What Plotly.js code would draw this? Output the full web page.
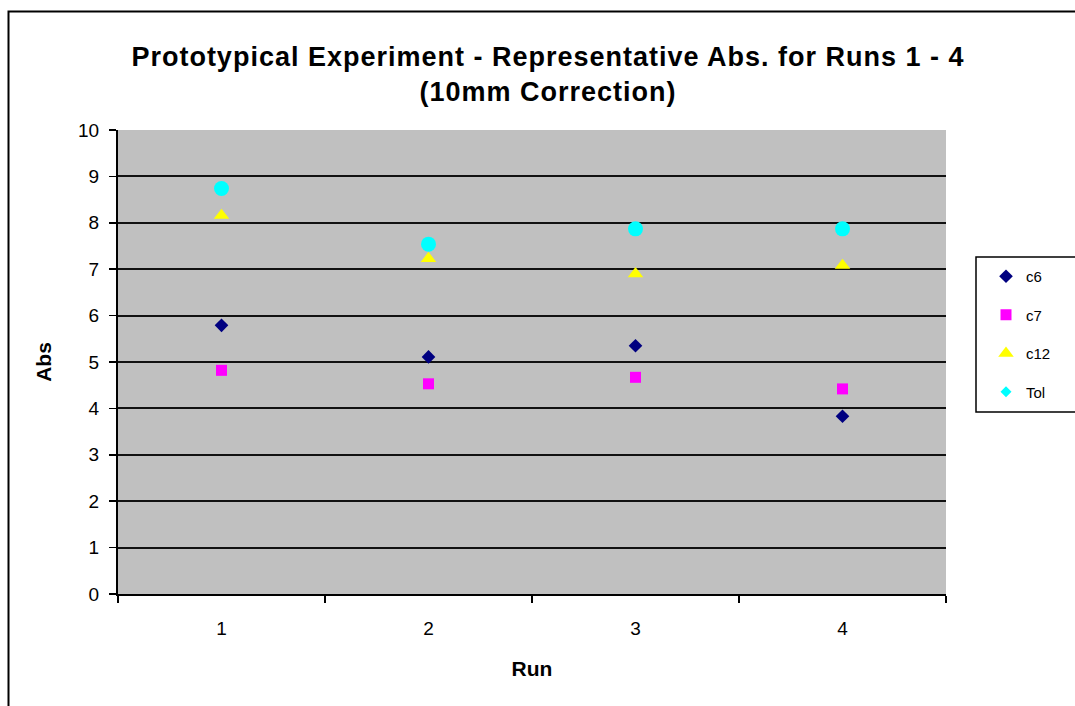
<!DOCTYPE html>
<html>
<head>
<meta charset="utf-8">
<script src="https://cdn.plot.ly/plotly-3.0.1.min.js"></script>
<style>
html,body{margin:0;padding:0;background:#fff;}
#chart{width:1075px;height:706px;}
#chart .gtitle{letter-spacing:1px;}
</style>
</head>
<body>
<div id="chart"></div>
<script>
var runs = ['1', '2', '3', '4'];
var c6 = [5.79, 5.11, 5.35, 3.83];
var c7 = [4.82, 4.53, 4.67, 4.42];
var c12 = [8.16, 7.23, 6.90, 7.08];
var tol = [8.74, 7.54, 7.87, 7.87];

var L = 118, R = 946, T = 130, B = 594, W = 1075, H = 706;
function px(x){ return (x - L) / (R - L); }
function py(y){ return (B - y) / (B - T); }

var font = 'Liberation Sans, Arial, sans-serif';

var traces = [
  {x: runs, y: c6, name: 'c6', type: 'scatter', mode: 'markers', legendgroup: 'a',
   marker: {symbol: 'diamond', size: 10.5, color: '#000080'}},
  {x: runs, y: c7, name: 'c7', type: 'scatter', mode: 'markers', legendgroup: 'b',
   marker: {symbol: 'square', size: 11, color: '#ff00ff'}},
  {x: runs, y: c12, name: 'c12', type: 'scatter', mode: 'markers', legendgroup: 'c',
   marker: {symbol: 'triangle-up', size: 13.5, color: '#ffff00'}},
  {x: runs, y: tol, name: 'Tol', type: 'scatter', mode: 'markers', legendgroup: 'd',
   showlegend: false,
   marker: {symbol: 'circle', size: 15, color: '#00ffff'}},
  {x: [null], y: [null], name: 'Tol', type: 'scatter', mode: 'markers', legendgroup: 'd',
   marker: {symbol: 'diamond', size: 8.5, color: '#00ffff'}}
];

var layout = {
  width: W, height: H,
  paper_bgcolor: '#ffffff',
  plot_bgcolor: '#c0c0c0',
  margin: {l: L, r: W - R, t: T, b: H - B, autoexpand: false},
  font: {family: font, color: '#000'},
  showlegend: true,
  title: {
    text: '<b>Prototypical Experiment - Representative Abs. for Runs 1 - 4<br>(10mm Correction)</b>',
    font: {family: font, size: 27, color: '#000'},
    x: 548 / W, xref: 'container', xanchor: 'center',
    y: 1 - 66 / H, yref: 'container', yanchor: 'top'
  },
  xaxis: {
    type: 'category',
    range: [-0.5, 3.5],
    tickson: 'boundaries',
    ticks: 'outside', ticklen: 7, tickwidth: 1.5, tickcolor: '#000',
    showline: true, linecolor: '#000', linewidth: 2,
    showgrid: false, zeroline: false,
    ticklabelstandoff: 16,
    tickfont: {family: font, size: 19, color: '#000'},
    title: {text: '<b>Run</b>', font: {family: font, size: 21, color: '#000'}, standoff: 24}
  },
  yaxis: {
    range: [0, 10], dtick: 1, tick0: 0,
    ticks: 'outside', ticklen: 7, tickwidth: 1.5, tickcolor: '#000',
    showline: true, linecolor: '#000', linewidth: 2,
    showgrid: true, gridcolor: '#111', gridwidth: 2,
    zeroline: false,
    ticklabelstandoff: 6,
    tickfont: {family: font, size: 19, color: '#000'},
    title: {text: '<b>Abs</b>', font: {family: font, size: 21, color: '#000'}, standoff: 21}
  },
  legend: {
    x: px(986), xanchor: 'left',
    y: py(260), yanchor: 'top',
    bgcolor: 'rgba(0,0,0,0)', borderwidth: 0,
    font: {family: font, size: 15, color: '#000'},
    tracegroupgap: 16
  },
  shapes: [
    {type: 'rect', xref: 'paper', yref: 'paper',
     x0: px(976), x1: px(1085), y0: py(257), y1: py(412),
     line: {color: '#000', width: 1.5}, fillcolor: '#ffffff', layer: 'below'},
    {type: 'rect', xref: 'paper', yref: 'paper',
     x0: px(8.5), x1: px(1090), y0: py(11.5), y1: py(720),
     line: {color: '#000', width: 2}, fillcolor: 'rgba(0,0,0,0)', layer: 'below'}
  ]
};

Plotly.newPlot('chart', traces, layout, {displayModeBar: false, staticPlot: true});
</script>
</body>
</html>
